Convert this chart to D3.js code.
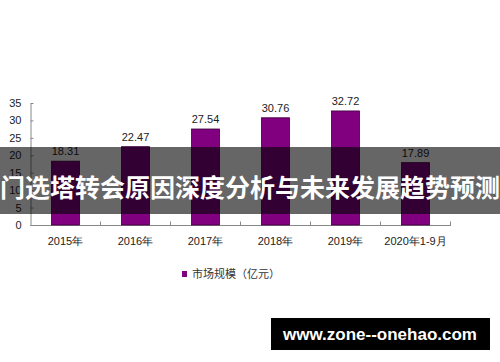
<!DOCTYPE html>
<html>
<head>
<meta charset="utf-8">
<script src="https://cdn.jsdelivr.net/npm/d3@7"></script>
<style>
  body { margin: 0; background: #fff; }
  svg { display: block; }
</style>
</head>
<body>
<svg width="500" height="362"></svg>
<script>
const years = ['2015年', '2016年', '2017年', '2018年', '2019年', '2020年1-9月'];
const marketSize = [18.31, 22.47, 27.54, 30.76, 32.72, 17.89];
const yTicks = [0, 5, 10, 15, 20, 25, 30, 35];
const seriesName = '市场规模（亿元）';
const title = '门选塔转会原因深度分析与未来发展趋势预测';
const watermark = 'www.zone--onehao.com';

const svg = d3.select('svg');
const font = '"Liberation Sans", Arial, sans-serif';
const barColor = '#800080';

const xScale = d3.scaleBand()
    .domain(years)
    .range([30.5, 450.5])
    .paddingInner(0.6)
    .paddingOuter(0.3);

const yScale = d3.scaleLinear()
    .domain([0, 35])
    .range([225, 103]);

// y axis
const yAxisG = svg.append('g')
    .attr('transform', 'translate(30.5,0)')
    .call(d3.axisLeft(yScale).tickValues(yTicks).tickSizeInner(-3).tickSizeOuter(0).tickPadding(9));
yAxisG.select('.domain').attr('stroke', '#888');
yAxisG.selectAll('.tick line').attr('stroke', '#888');
yAxisG.selectAll('text')
    .attr('font-family', font)
    .attr('font-size', 11)
    .attr('fill', '#222');

// x axis: ticks at category boundaries
const xAxisG = svg.append('g')
    .attr('transform', 'translate(0,225.5)');
xAxisG.append('line')
    .attr('x1', 30.5).attr('x2', 451)
    .attr('stroke', '#888');
const step = xScale.step();
xAxisG.selectAll('.bound').data(years)
    .enter().append('line')
    .attr('class', 'bound')
    .attr('x1', d => xScale(d) - xScale.paddingInner() * step / 2 + step)
    .attr('x2', d => xScale(d) - xScale.paddingInner() * step / 2 + step)
    .attr('y1', 0).attr('y2', -4)
    .attr('stroke', '#888');
xAxisG.selectAll('.xlabel').data(years)
    .enter().append('text')
    .attr('x', d => xScale(d) + xScale.bandwidth() / 2)
    .attr('y', 19)
    .attr('text-anchor', 'middle')
    .attr('font-family', font)
    .attr('font-size', 11)
    .attr('fill', '#222')
    .text(d => d);

// bars
const data = years.map((y, i) => ({ year: y, value: marketSize[i] }));
svg.selectAll('.bar').data(data)
    .enter().append('rect')
    .attr('class', 'bar')
    .attr('x', d => xScale(d.year))
    .attr('y', d => yScale(d.value))
    .attr('width', xScale.bandwidth())
    .attr('height', d => yScale(0) - yScale(d.value))
    .attr('fill', barColor)
    .attr('stroke', '#3a003a')
    .attr('stroke-width', 0.8);

svg.selectAll('.val').data(data)
    .enter().append('text')
    .attr('x', d => xScale(d.year) + xScale.bandwidth() / 2)
    .attr('y', d => yScale(d.value) - 6)
    .attr('text-anchor', 'middle')
    .attr('font-family', font)
    .attr('font-size', 11)
    .attr('fill', '#222')
    .text(d => d.value.toFixed(2));

// legend
svg.append('rect')
    .attr('x', 182).attr('y', 271)
    .attr('width', 5).attr('height', 6)
    .attr('fill', barColor);
svg.append('text')
    .attr('x', 192).attr('y', 278)
    .attr('font-family', '"Noto Sans CJK SC", sans-serif')
    .attr('font-size', 11)
    .attr('fill', '#333')
    .text(seriesName);

// title overlay band
svg.append('rect')
    .attr('x', 0).attr('y', 147)
    .attr('width', 500).attr('height', 67)
    .attr('fill', '#000')
    .attr('opacity', 0.6);
svg.append('text')
    .attr('x', 250).attr('y', 186)
    .attr('text-anchor', 'middle')
    .attr('dominant-baseline', 'central')
    .attr('font-family', '"Noto Sans CJK SC", sans-serif')
    .attr('font-weight', 'bold')
    .attr('font-size', 25)
    .attr('fill', '#fff')
    .text(title);

// watermark
svg.append('rect')
    .attr('x', 271).attr('y', 318)
    .attr('width', 219).attr('height', 32)
    .attr('fill', '#000');
svg.append('text')
    .attr('x', 380).attr('y', 340)
    .attr('text-anchor', 'middle')
    .attr('font-family', font)
    .attr('font-weight', 'bold')
    .attr('font-size', 17)
    .attr('fill', '#fff')
    .text(watermark);
</script>
</body>
</html>
